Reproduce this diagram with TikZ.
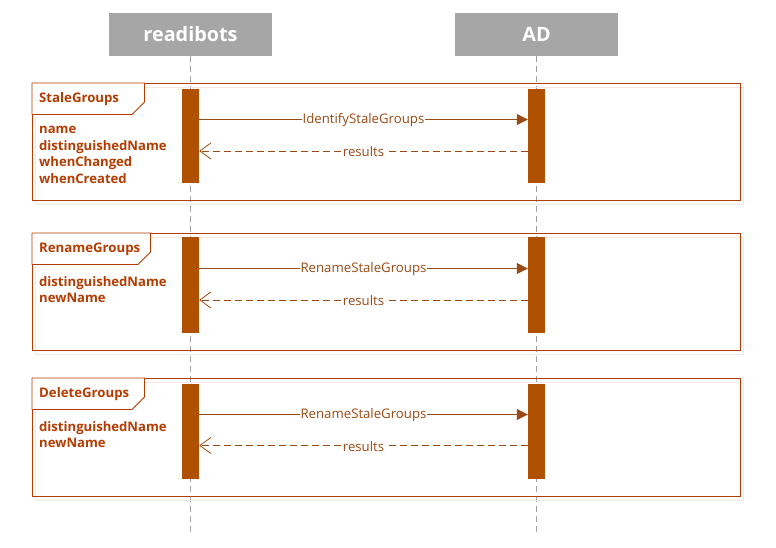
\documentclass[tikz,border=0pt]{standalone}
\usepackage{fontspec}
\setmainfont{Open Sans}
\usetikzlibrary{arrows.meta}
\definecolor{hdr}{HTML}{A6A6A6}
\definecolor{bar}{HTML}{AF5100}
\definecolor{frm}{HTML}{B43C00}
\definecolor{shd}{HTML}{F8E8E2}
\definecolor{msg}{HTML}{9A4A14}
\definecolor{life}{HTML}{A0A0A0}
\tikzset{
  header/.style={fill=hdr,text=white,font=\bfseries\fontsize{19.8}{22}\selectfont,minimum width=163pt,minimum height=43pt,inner sep=0},
  lifeline/.style={draw=life,dash pattern=on 6pt off 4pt,line width=0.8pt},
  actbar/.style={fill=bar,draw=none,minimum width=17pt,inner sep=0},
  frame/.style={draw=frm,line width=0.9pt},
  shadow/.style={draw=shd,line width=0.9pt},
  tab/.style={draw=frm,line width=0.9pt,fill=white},
  ftitle/.style={text=frm,font=\bfseries\fontsize{13.2}{15}\selectfont,anchor=west,inner sep=0},
  fattr/.style={text=frm,font=\bfseries\fontsize{13.1}{16.7}\selectfont,anchor=north west,inner sep=0,align=left},
  callmsg/.style={draw=msg,line width=0.8pt,-{Triangle[length=11pt,width=11pt]}},
  retmsg/.style={draw=msg,line width=0.8pt,dash pattern=on 7pt off 4pt,-{Straight Barb[length=11pt,width=16pt,line width=0.8pt]}},
  mlabel/.style={fill=white,text=msg,font=\fontsize{13.2}{15}\selectfont,inner sep=1pt,yshift=-1pt}
}
\begin{document}
\begin{tikzpicture}[x=1pt,y=-1pt]
\useasboundingbox[fill=white] (0,0) rectangle (776,548);
% headers
\node[header] (rb) at (190.5,34.5) {readibots};
\node[header] (ad) at (536.5,34.5) {AD};
\coordinate (rbend) at (190.5,532);
\coordinate (adend) at (536.5,532);
\draw[lifeline] (rb.south) -- (rbend);
\draw[lifeline] (ad.south) -- (adend);
% frames
\foreach \ft/\fb/\title/\tx/\ty/\nm/\attrs/\bt/\bb/\cy/\ry/\cl in {
  83/200/StaleGroups/144.5/114.5/f1/{name\\distinguishedName\\whenChanged\\whenCreated}/88.5/182.5/119.5/151/IdentifyStaleGroups,
  233/350/RenameGroups/150.5/264.5/f2/{distinguishedName\\newName}/237/332.5/268.5/300/RenameStaleGroups,
  378/496/DeleteGroups/144.5/409.5/f3/{distinguishedName\\newName}/383.5/478.5/414.5/445.5/RenameStaleGroups}{
  \draw[shadow] (35.5,\ft+4) rectangle (743,\fb+4);
  \node[frame,fill=none,minimum width=707.5pt,minimum height=\fb-\ft,inner sep=0,anchor=north west] (\nm) at (32,\ft) {};
  \draw[tab] (32,\ft) -- (\tx,\ft) -- (\tx,\ty-12.5) -- (\tx-12.5,\ty) -- (32,\ty) -- cycle;
  \node[ftitle] (\nm t) at (39,\ft+16.5) {\title};
  \node[fattr] (\nm a) at (39,\ft+43) {\attrs};
  \node[actbar,minimum height=\bb-\bt,anchor=north] (\nm l) at (190.5,\bt) {};
  \node[actbar,minimum height=\bb-\bt,anchor=north] (\nm r) at (536.5,\bt) {};
  \coordinate (\nm cs) at (\nm l.east |- 0,\cy);
  \coordinate (\nm ce) at (\nm r.west |- 0,\cy);
  \coordinate (\nm rs) at (\nm r.west |- 0,\ry);
  \coordinate (\nm re) at (\nm l.east |- 0,\ry);
  \draw[callmsg] (\nm cs) -- node[mlabel] {\cl} (\nm ce);
  \draw[retmsg] (\nm rs) -- node[mlabel] {results} (\nm re);
}
\end{tikzpicture}
\end{document}
